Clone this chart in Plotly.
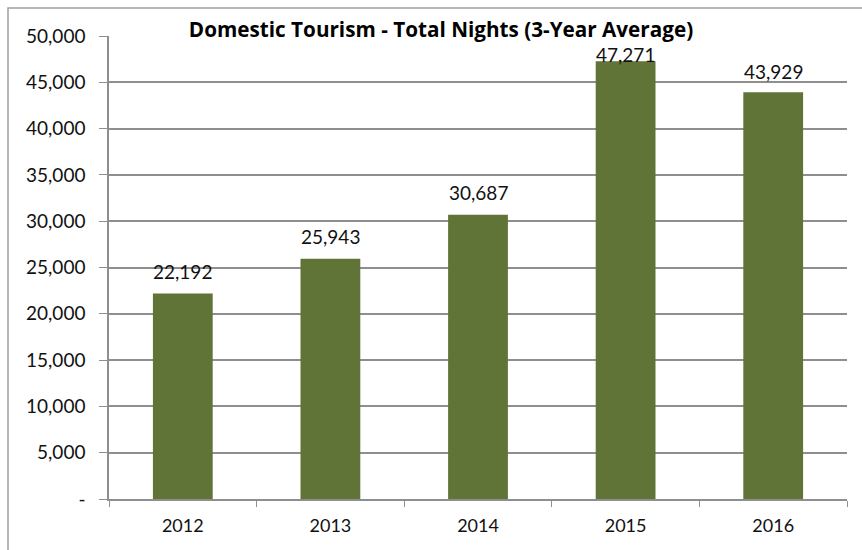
import plotly.graph_objects as go

years = ["2012", "2013", "2014", "2015", "2016"]
nights = [22192, 25943, 30687, 47271, 43929]
ytick_vals = [0, 5000, 10000, 15000, 20000, 25000, 30000, 35000, 40000, 45000, 50000]
ytick_text = ["-", "5,000", "10,000", "15,000", "20,000", "25,000", "30,000",
              "35,000", "40,000", "45,000", "50,000"]
title_text = "Domestic Tourism - Total Nights (3-Year Average)"

# label vertical offsets (px) - style only
label_shift = [22, 22, 22, 7, 21]

FONT = "Lato"
BAR = "#5f7436"
GRID = "#8e8e8e"

fig = go.Figure()
fig.add_trace(go.Bar(x=years, y=nights, marker=dict(color=BAR, line=dict(width=0)),
                     hoverinfo="x+y"))

for i, (v, s) in enumerate(zip(nights, label_shift)):
    fig.add_annotation(x=i, y=v, xref="x", yref="y", text=f"{v:,}", showarrow=False,
                       yshift=s, yanchor="middle",
                       font=dict(family=FONT, size=19, color="#111111"))

ml, mr, mt, mb = 109, 15, 36, 51
W, H = 862, 550
pw, ph = W - ml - mr, H - mt - mb
fig.add_shape(type="rect", xref="paper", yref="paper",
              x0=(8 - ml) / pw, x1=1 + (mr + 20) / pw,
              y0=-(mb + 20) / ph, y1=1 + (mt - 8) / ph,
              line=dict(color="#a0a0a0", width=1.5), layer="below")

fig.update_layout(
    width=W, height=H, margin=dict(l=ml, r=mr, t=mt, b=mb),
    paper_bgcolor="white", plot_bgcolor="white",
    bargap=0.595, showlegend=False,
    font=dict(family=FONT, size=19, color="#111111"),
    title=dict(text="<b>" + title_text + "</b>", x=441 / W, xanchor="center",
               y=1 - 30 / H, yanchor="middle", yref="container",
               font=dict(family="Open Sans", size=20.7, color="#000000")),
    xaxis=dict(type="category", categoryorder="array", categoryarray=years,
               range=[-0.5, 4.5], tickson="boundaries", ticks="outside", ticklen=6,
               tickcolor=GRID, showline=True, linecolor=GRID, linewidth=1.5,
               showgrid=False, tickfont=dict(size=18), ticklabelstandoff=10,
               tickangle=0),
    yaxis=dict(range=[0, 50000], tickvals=ytick_vals, ticktext=ytick_text,
               ticks="outside", ticklen=8, tickcolor=GRID, showline=True,
               linecolor=GRID, linewidth=1.5, showgrid=True, gridcolor=GRID,
               gridwidth=1.5, zeroline=False, tickfont=dict(size=19),
               ticklabelstandoff=10),
)

fig.write_html("out.html")
